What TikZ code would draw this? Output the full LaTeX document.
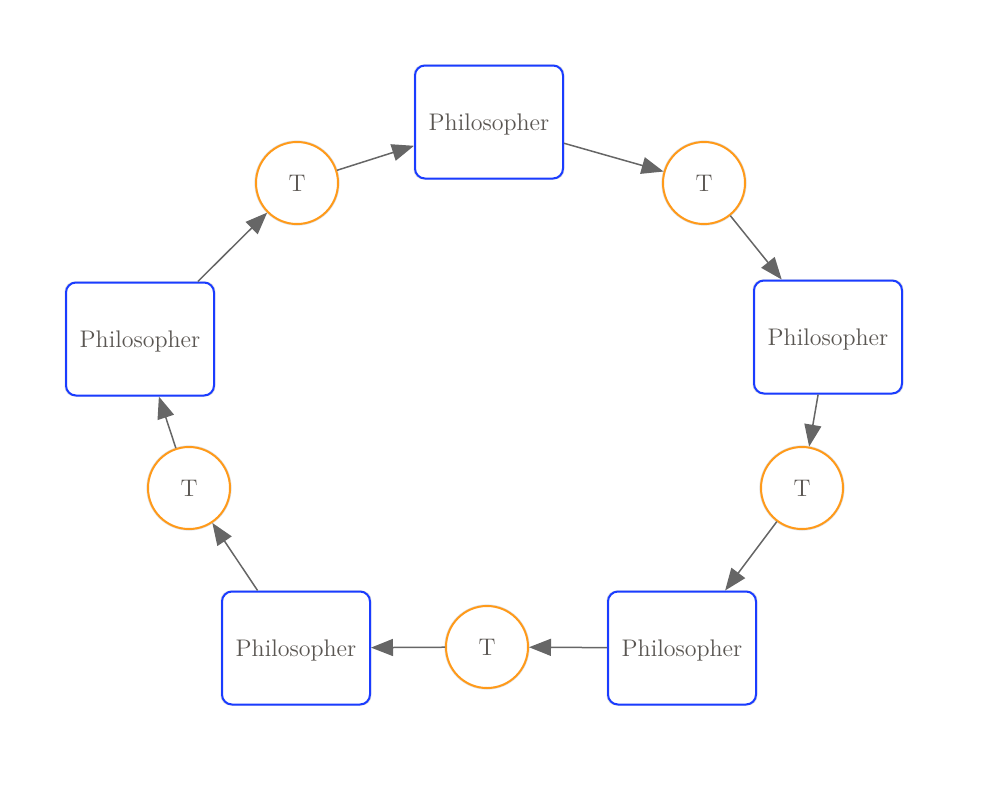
\documentclass[tikz,border=0pt]{standalone}
\usetikzlibrary{arrows.meta,shadows}
\definecolor{boxblue}{HTML}{1A3CFF}
\definecolor{torange}{HTML}{FF9A1A}
\definecolor{edgegray}{HTML}{666666}
\definecolor{txtgray}{HTML}{5A5652}
\tikzset{
  phil/.style={draw=boxblue, line width=1pt, fill=white, rounded corners=5pt,
    minimum width=74pt, minimum height=56.5pt, inner sep=0pt,
    text=txtgray, font=\fontsize{12}{14}\selectfont, text depth=-0.5pt,
    general shadow={shadow scale=1.02, opacity=0.12, fill=black}},
  tok/.style={circle, draw=torange, line width=1pt, fill=white,
    minimum size=41pt, inner sep=0pt, text=txtgray, text depth=-0.5pt,
    font=\fontsize{12}{14}\selectfont,
    general shadow={shadow scale=1.04, opacity=0.12, fill=black}},
  edge/.style={draw=edgegray, line width=0.75pt,
    -{Triangle[length=11pt,width=8.5pt]}}
}
\begin{document}
\begin{tikzpicture}[x=0.5pt,y=-0.5pt]
\useasboundingbox (0,0) rectangle (984,798);
\node[phil] (p1) at (489,122) {Philosopher};
\node[phil] (p2) at (828,337) {Philosopher};
\node[phil] (p3) at (682,648) {Philosopher};
\node[phil] (p4) at (296,648) {Philosopher};
\node[phil] (p5) at (140,339) {Philosopher};
\node[tok] (t1) at (297,183) {T};
\node[tok] (t2) at (704,183) {T};
\node[tok] (t3) at (802,488) {T};
\node[tok] (t4) at (487,647) {T};
\node[tok] (t5) at (189,488) {T};
\draw[edge] (t1) -- (p1);
\draw[edge] (p1) -- (t2);
\draw[edge] (t2) -- (p2);
\draw[edge] (p2) -- (t3);
\draw[edge] (t3) -- (p3);
\draw[edge] (p3) -- (t4);
\draw[edge] (t4) -- (p4);
\draw[edge] (p4) -- (t5);
\draw[edge] (t5) -- (p5);
\draw[edge] (p5) -- (t1);
\end{tikzpicture}
\end{document}
